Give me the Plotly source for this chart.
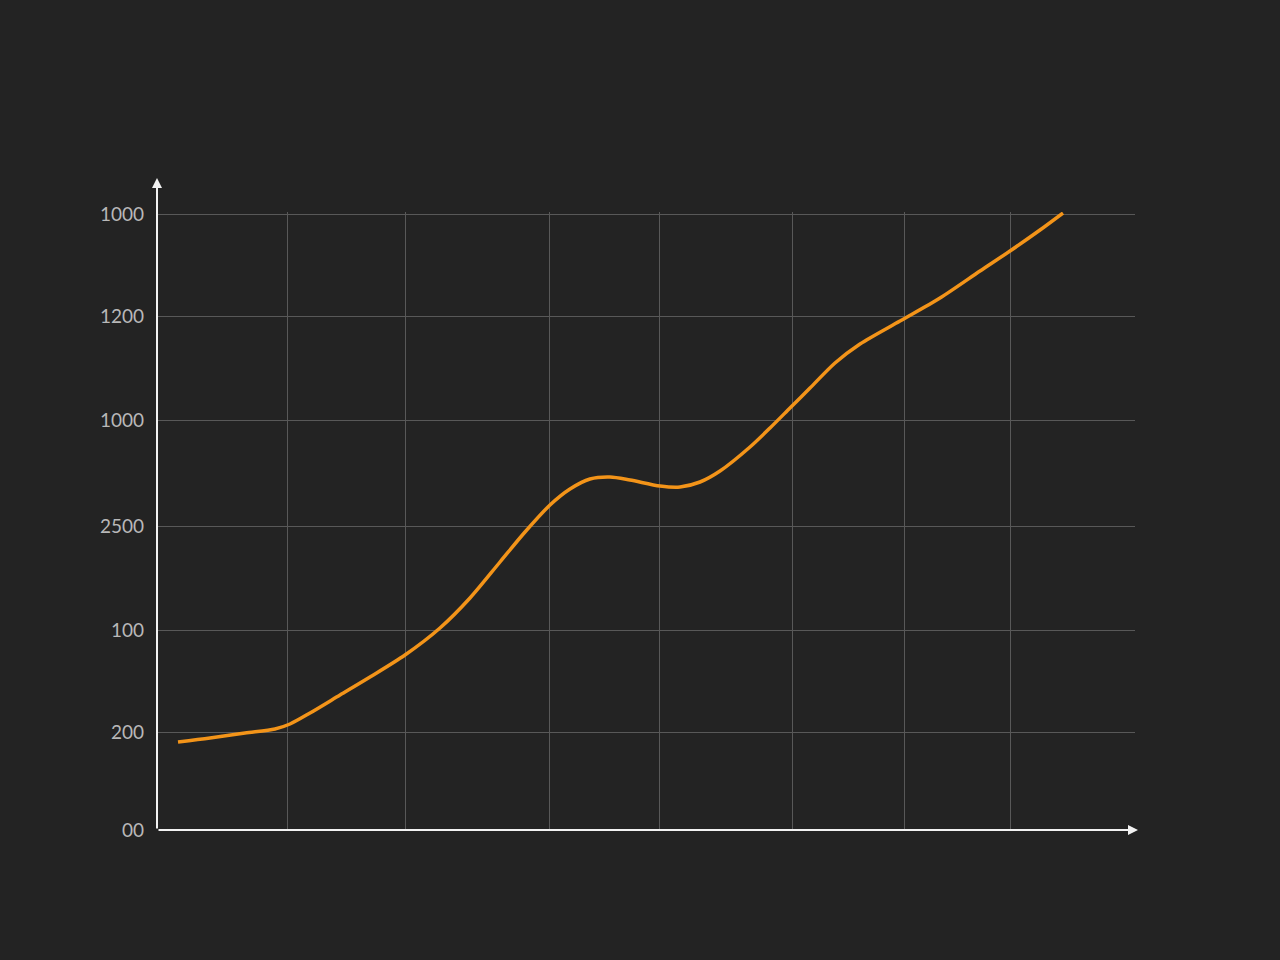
import plotly.graph_objects as go

# 軸刻度（刻度位置依畫面量得，標籤照原圖文字）
y_tick_vals = [0, 98, 200, 304, 410, 514, 616]
y_tick_text = ["00", "200", "100", "2500", "1000", "1200", "1000"]
x_tick_vals = [130, 248, 392, 502, 635, 747, 853]

# 曲線資料
x_vals = [21, 53, 88, 118, 133, 153, 183, 213, 248, 283, 313, 343, 368, 393,
          413, 433, 453, 473, 503, 523, 543, 563, 593, 613, 633, 653, 678, 703,
          743, 783, 823, 853, 883, 906]
y_vals = [88, 92, 97, 101, 106, 117, 135, 153, 175, 202, 232, 268, 298, 325,
          341, 351, 353, 350, 344, 343, 348, 359, 383, 402, 422, 442, 467, 486,
          509, 532, 559, 579, 600, 617]

BG = "#232323"
GRID = "#585858"
ORANGE = "#F39419"

fig = go.Figure()
fig.add_trace(go.Scatter(
    x=x_vals, y=y_vals, mode="lines",
    line=dict(color=ORANGE, width=3.5, shape="spline", smoothing=0.8),
    showlegend=False, hoverinfo="skip", cliponaxis=False,
))

fig.update_layout(
    width=1280, height=960,
    margin=dict(l=157, r=145, t=212, b=130),
    paper_bgcolor=BG, plot_bgcolor=BG,
    font=dict(family="Lato", color="#b8b8b8", size=19),
    xaxis=dict(
        range=[0, 978], tickvals=x_tick_vals, showticklabels=False,
        showgrid=True, gridcolor=GRID, gridwidth=1,
        zeroline=False, showline=False, ticks="",
    ),
    yaxis=dict(
        range=[0, 618], tickvals=y_tick_vals, ticktext=y_tick_text,
        showgrid=True, gridcolor=GRID, gridwidth=1,
        zeroline=False, showline=False, ticks="", ticklabelstandoff=12,
    ),
)

# 座標軸箭頭
fig.add_annotation(
    x=0, y=652, ax=0, ay=0, xref="x", yref="y", axref="x", ayref="y",
    text="", showarrow=True, arrowhead=2, arrowsize=1, arrowwidth=2,
    arrowcolor="#f2f2f2",
)
fig.add_annotation(
    x=981, y=0, ax=0, ay=0, xref="x", yref="y", axref="x", ayref="y",
    text="", showarrow=True, arrowhead=2, arrowsize=1, arrowwidth=2,
    arrowcolor="#f2f2f2",
)

fig.write_html(
    "out.html",
    config={"displayModeBar": False},
    post_script="document.body.style.margin='0';"
                "document.body.style.background='#232323';",
)
